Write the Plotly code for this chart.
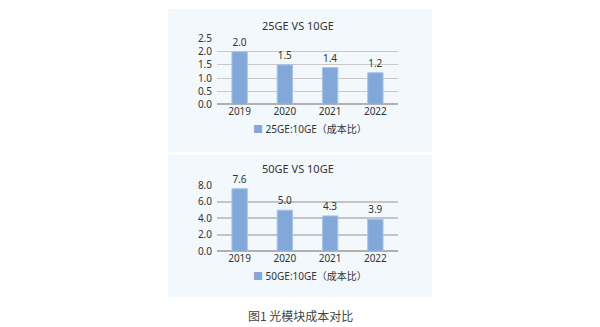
import plotly.graph_objects as go

years = ["2019", "2020", "2021", "2022"]
ratio_25 = [2.0, 1.5, 1.4, 1.2]
ratio_50 = [7.6, 5.0, 4.3, 3.9]
labels_25 = ["2.0", "1.5", "1.4", "1.2"]
labels_50 = ["7.6", "5.0", "4.3", "3.9"]
y_ticks_25 = [0, 0.5, 1.0, 1.5, 2.0, 2.5]
y_ticks_50 = [0, 2, 4, 6, 8]
series_25 = "25GE:10GE（成本比）"
series_50 = "50GE:10GE（成本比）"

W, H = 600, 327
def px(x): return x / W
def py(y): return 1 - y / H

FONT = "Noto Sans, Noto Sans CJK SC, sans-serif"
BAR = "#82a8d9"
BG = "#f2f8fc"
GRID = "#c9c9c9"
TXT = "#333333"

fig = go.Figure()
fig.add_trace(go.Bar(x=years, y=ratio_25, text=labels_25, textposition="outside",
                     textfont=dict(size=10, color=TXT), cliponaxis=False,
                     marker=dict(color=BAR, line=dict(color="#a9c4e6", width=1)),
                     width=0.34, name=series_25, xaxis="x", yaxis="y", showlegend=False))
fig.add_trace(go.Bar(x=years, y=ratio_50, text=labels_50, textposition="outside",
                     textfont=dict(size=10, color=TXT), cliponaxis=False,
                     marker=dict(color=BAR, line=dict(color="#a9c4e6", width=1)),
                     width=0.34, name=series_50, xaxis="x2", yaxis="y2", showlegend=False))

axis_common = dict(showline=False, ticks="", tickfont=dict(size=10, color=TXT, family=FONT))
legend_font = dict(size=10, color=TXT, family="Noto Sans, Noto Sans CJK SC, sans-serif")

def legend_text(name):
    return f"<span style='color:{BAR}'>■</span> {name}"

fig.update_layout(
    width=W, height=H, margin=dict(l=0, r=0, t=0, b=0),
    paper_bgcolor="white", plot_bgcolor="rgba(0,0,0,0)",
    font=dict(family=FONT, color=TXT),
    showlegend=False,
    xaxis=dict(domain=[px(217), px(398)], anchor="y", showgrid=False, **axis_common),
    yaxis=dict(domain=[py(101), py(32)], anchor="x", range=[0, 2.5], tickvals=y_ticks_25,
               tickformat=".1f", showgrid=True, gridcolor=GRID, gridwidth=1,
               zeroline=True, zerolinecolor="#b0b0b0", zerolinewidth=1.5,
               ticklabelstandoff=4, **axis_common),
    xaxis2=dict(domain=[px(217), px(398)], anchor="y2", showgrid=False, **axis_common),
    yaxis2=dict(domain=[py(255), py(186)], anchor="x2", range=[0, 8], tickvals=y_ticks_50,
                tickformat=".1f", showgrid=True, gridcolor="#c4c4c4", gridwidth=1.5,
                zeroline=True, zerolinecolor="#b0b0b0", zerolinewidth=1.5,
                ticklabelstandoff=4, **axis_common),
    shapes=[
        dict(type="rect", xref="paper", yref="paper", x0=px(168), x1=px(432),
             y0=py(151), y1=py(1), fillcolor=BG, line=dict(width=0), layer="below"),
        dict(type="rect", xref="paper", yref="paper", x0=px(168), x1=px(432),
             y0=py(303), y1=py(154), fillcolor=BG, line=dict(width=0), layer="below"),
    ],
    annotations=[
        dict(text="25GE VS 10GE", xref="paper", yref="paper", x=px(298), y=py(18),
             showarrow=False, font=dict(size=11, color=TXT), xanchor="center", yanchor="middle"),
        dict(text="50GE VS 10GE", xref="paper", yref="paper", x=px(298), y=py(168),
             showarrow=False, font=dict(size=11, color=TXT), xanchor="center", yanchor="middle"),
        dict(text=legend_text(series_25), xref="paper", yref="paper", x=px(251), y=py(127),
             showarrow=False, font=legend_font, xanchor="left", yanchor="middle"),
        dict(text=legend_text(series_50), xref="paper", yref="paper", x=px(251), y=py(281),
             showarrow=False, font=legend_font, xanchor="left", yanchor="middle"),
        dict(text="图1 光模块成本对比", xref="paper", yref="paper", x=px(300), y=py(322),
             showarrow=False, font=dict(size=12, color="#444444",
                                         family="Noto Sans CJK SC, sans-serif"),
             xanchor="center", yanchor="middle"),
    ],
)

fig.write_html("out.html")
